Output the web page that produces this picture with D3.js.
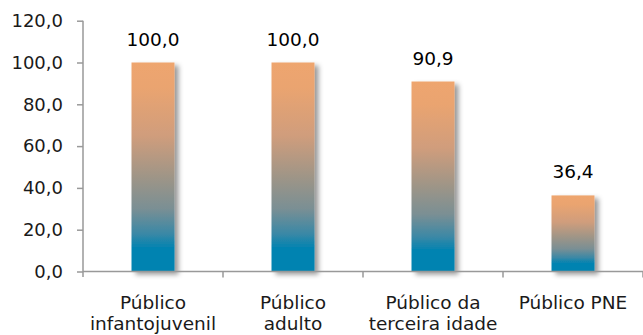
<!DOCTYPE html>
<html><head><meta charset="utf-8">
<script src="https://cdn.jsdelivr.net/npm/d3@7"></script>
<style>body{margin:0;background:#fff}svg{display:block}text{font-family:"DejaVu Sans",sans-serif}</style>
</head><body><svg id="c" width="643" height="335"></svg>
<script>
const categories = ["Público infantojuvenil", "Público adulto", "Público da terceira idade", "Público PNE"];
const catLines = [["Público","infantojuvenil"],["Público","adulto"],["Público da","terceira idade"],["Público PNE"]];
const values = [100.0, 100.0, 90.9, 36.4];
const yTicks = [0, 20, 40, 60, 80, 100, 120];

const svg = d3.select("#c");
const loc = d3.formatLocale({decimal: ",", thousands: ".", grouping: [3], currency: ["", ""]});
const fmt = loc.format(".1f");

const y = d3.scaleLinear().domain([0, 120]).range([271.5, 20.7]);
const xAxisScale = d3.scaleBand().domain(categories).range([83, 643]).padding(0);
const p = 0.693;
const xBar = d3.scaleBand().domain(categories).range([83, 643]).paddingInner(p).paddingOuter(p / 2);

const defs = svg.append("defs");
const g = defs.append("linearGradient").attr("id", "grad").attr("x1", 0).attr("y1", 0).attr("x2", 0).attr("y2", 1);
[[0, "#EEA56E"], [0.12, "#EAA470"], [0.35, "#D09D7C"], [0.55, "#9E9587"], [0.7, "#7A8F94"], [0.82, "#3A88A6"], [0.89, "#0083B1"], [1, "#0083B1"]]
  .forEach(([o, c]) => g.append("stop").attr("offset", o).attr("stop-color", c));
const f = defs.append("filter").attr("id", "sh").attr("x", "-30%").attr("y", "-10%").attr("width", "180%").attr("height", "130%");
f.append("feDropShadow").attr("dx", 4).attr("dy", 3).attr("stdDeviation", 2.5).attr("flood-color", "#000").attr("flood-opacity", 0.4);

// bars
svg.append("g").selectAll("rect").data(values).join("rect")
  .attr("x", (d, i) => xBar(categories[i]))
  .attr("width", xBar.bandwidth())
  .attr("y", d => y(d))
  .attr("height", d => y(0) - y(d))
  .attr("fill", "url(#grad)")
  .attr("filter", "url(#sh)");

// y axis
const ya = svg.append("g").attr("transform", "translate(83,0)")
  .call(d3.axisLeft(y).tickValues(yTicks).tickFormat(fmt).tickSize(6).tickPadding(14));
ya.select(".domain").attr("stroke", "#999").attr("stroke-width", 1.5).attr("d", "M0,20.7V277");
ya.selectAll(".tick line").attr("stroke", "#999").attr("stroke-width", 1.5);
ya.selectAll(".tick text").attr("fill", "#1a1a1a").style("font-size", "18px").style("font-family", "DejaVu Sans");

// x axis
const xa = svg.append("g").attr("transform", `translate(0,${y(0)})`)
  .call(d3.axisBottom(xAxisScale).tickSize(0).tickFormat(""));
xa.select(".domain").attr("stroke", "#999").attr("stroke-width", 1.5).attr("d", "M83,0H643");
xa.selectAll(".tick").remove();
const bounds = categories.slice(1).map(c => xAxisScale(c)).concat([643]);
xa.selectAll("line.bt").data(bounds).join("line").attr("class", "bt")
  .attr("x1", d => d).attr("x2", d => d).attr("y1", 0).attr("y2", 6)
  .attr("stroke", "#999").attr("stroke-width", 1.5);

// category labels
const cl = svg.append("g").selectAll("text").data(categories).join("text")
  .attr("text-anchor", "middle").attr("fill", "#1a1a1a").style("font-size", "18.5px");
cl.each(function(c, i) {
  const t = d3.select(this);
  catLines[i].forEach((ln, j) => t.append("tspan")
    .attr("x", xAxisScale(c) + xAxisScale.bandwidth() / 2)
    .attr("y", 309 + j * 21).text(ln));
});

// data labels
svg.append("g").selectAll("text").data(values).join("text")
  .attr("x", (d, i) => xBar(categories[i]) + xBar.bandwidth() / 2)
  .attr("y", d => y(d) - 17)
  .attr("text-anchor", "middle").attr("fill", "#000").style("font-size", "18.5px")
  .text(d => fmt(d));
</script></body></html>
